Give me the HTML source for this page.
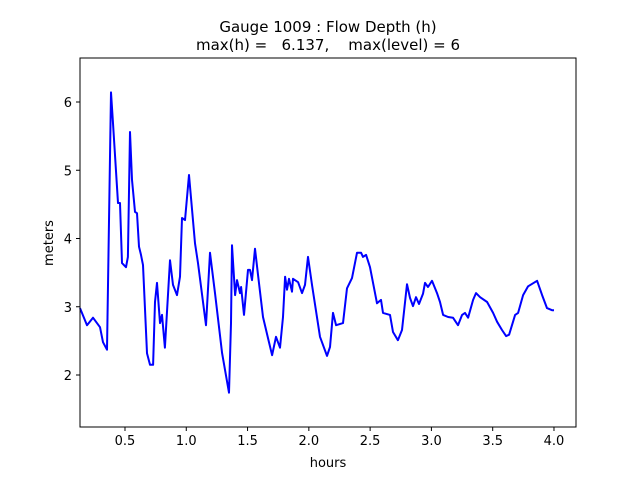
<!DOCTYPE html>
<html><head><meta charset="utf-8"><style>
body{margin:0;background:#fff}
svg{display:block;font-family:"DejaVu Sans","Liberation Sans",sans-serif}
</style></head><body>
<svg id="chart" width="640" height="480">
<rect x="0" y="0" width="640" height="480" fill="#fff"/>
<text x="328" y="32" text-anchor="middle" font-size="15">Gauge 1009 : Flow Depth (h)</text>
<text x="328" y="50" text-anchor="middle" font-size="15" xml:space="preserve">max(h) =   6.137,    max(level) = 6</text>
<g id="plot"></g>
<text x="328" y="467" text-anchor="middle" font-size="13">hours</text>
<text x="0" y="0" transform="translate(53,243) rotate(-90)" text-anchor="middle" font-size="13">meters</text>
</svg>
<script>
const times=[0.133,0.190,0.239,0.296,0.321,0.353,0.386,0.402,0.443,0.459,0.476,0.508,0.524,0.541,0.557,0.582,0.598,0.614,0.631,0.647,0.680,0.704,0.729,0.745,0.761,0.786,0.802,0.826,0.867,0.892,0.924,0.949,0.965,0.990,1.022,1.071,1.096,1.161,1.194,1.234,1.292,1.349,1.365,1.373,1.398,1.414,1.438,1.447,1.471,1.504,1.520,1.536,1.561,1.585,1.626,1.667,1.700,1.732,1.765,1.789,1.806,1.822,1.838,1.863,1.871,1.912,1.944,1.969,1.993,2.026,2.091,2.148,2.173,2.197,2.222,2.279,2.311,2.352,2.393,2.426,2.442,2.467,2.499,2.556,2.589,2.605,2.662,2.687,2.727,2.760,2.801,2.825,2.850,2.874,2.899,2.931,2.948,2.972,3.005,3.046,3.070,3.095,3.136,3.176,3.217,3.250,3.274,3.299,3.340,3.364,3.397,3.454,3.503,3.536,3.576,3.609,3.634,3.683,3.707,3.748,3.789,3.862,3.903,3.943,3.984,4.0];
const depths=[2.98,2.73,2.84,2.70,2.48,2.37,6.14,5.69,4.52,4.52,3.64,3.58,3.73,5.56,4.86,4.39,4.37,3.88,3.76,3.61,2.32,2.15,2.15,3.07,3.35,2.76,2.88,2.40,3.68,3.32,3.17,3.44,4.30,4.27,4.93,3.93,3.64,2.73,3.79,3.20,2.32,1.74,2.76,3.90,3.17,3.39,3.20,3.29,2.88,3.54,3.54,3.39,3.85,3.47,2.85,2.54,2.29,2.56,2.40,2.85,3.44,3.25,3.41,3.22,3.41,3.36,3.20,3.32,3.73,3.32,2.56,2.28,2.41,2.91,2.73,2.76,3.27,3.42,3.79,3.79,3.73,3.76,3.58,3.05,3.10,2.91,2.88,2.63,2.51,2.66,3.33,3.13,3.01,3.14,3.04,3.19,3.35,3.29,3.38,3.20,3.07,2.88,2.85,2.84,2.73,2.88,2.91,2.84,3.10,3.20,3.14,3.07,2.91,2.78,2.66,2.57,2.59,2.88,2.91,3.17,3.30,3.38,3.17,2.98,2.95,2.95];
const xTicks=[0.5,1.0,1.5,2.0,2.5,3.0,3.5,4.0];
const yTicks=[2,3,4,5,6];
const L=80,R=576,T=58,B=427;
const xs=t=>63.7+t*122.57;
const ys=v=>375-(v-2)*68.25;
const NS="http://www.w3.org/2000/svg";
const g=document.getElementById('plot');
function mk(tag,attrs){const e=document.createElementNS(NS,tag);for(const k in attrs)e.setAttribute(k,attrs[k]);return e;}
const line=mk('polyline',{points:times.map((t,i)=>xs(t).toFixed(1)+','+ys(depths[i]).toFixed(1)).join(' '),fill:'none',stroke:'#0000ff','stroke-width':2,'stroke-linejoin':'round'});


g.appendChild(line);
const frame=mk('rect',{x:L,y:T,width:R-L,height:B-T,fill:'none',stroke:'#000','stroke-width':1});


g.appendChild(frame);
xTicks.forEach(v=>{const x=xs(v);
const tk=mk('line',{x1:x,x2:x,y1:B,y2:B+4,stroke:'#000'});


g.appendChild(tk);
const lb=mk('text',{x:x,y:B+18,'text-anchor':'middle','font-size':13});lb.textContent=v.toFixed(1);


g.appendChild(lb);});
yTicks.forEach(v=>{const y=ys(v);
const tk=mk('line',{x1:L-4,x2:L,y1:y,y2:y,stroke:'#000'});


g.appendChild(tk);
const lb=mk('text',{x:L-8,y:y+5,'text-anchor':'end','font-size':13});lb.textContent=v;


g.appendChild(lb);});
</script>
</body></html>
